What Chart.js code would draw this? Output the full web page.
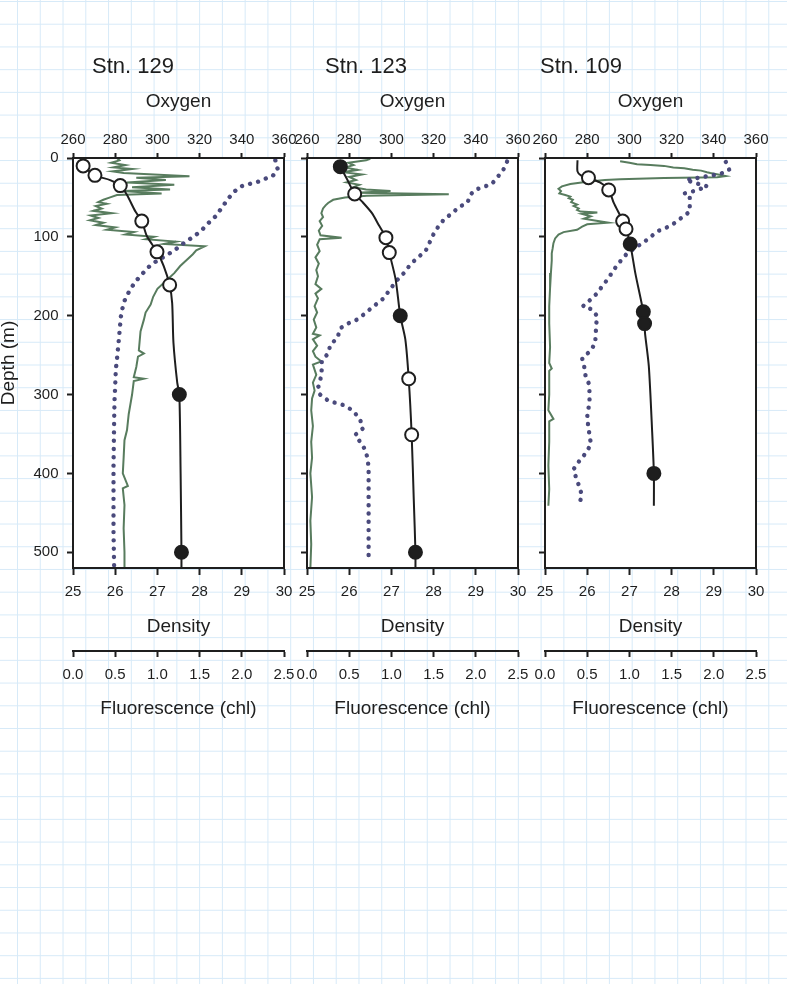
<!DOCTYPE html>
<html>
<head>
<meta charset="utf-8">
<title>CTD profiles</title>
<script src="https://cdn.jsdelivr.net/npm/chart.js@4.4.1/dist/chart.umd.min.js"></script>
<style>
  body {
    margin: 0;
    width: 787px;
    height: 984px;
    overflow: hidden;
    background-color: #fff;
    background-image:
      linear-gradient(90deg, #d7eaf8 1px, transparent 1px),
      linear-gradient(#d7eaf8 1px, transparent 1px);
    background-size: 22.78px 22.73px;
    background-position: 17px 1px;
  }
  .panel { position: absolute; top: 0; }
</style>
</head>
<body>
<canvas id="stn129" class="panel" width="308" height="740" style="left:0px"></canvas>
<canvas id="stn123" class="panel" width="308" height="740" style="left:234px"></canvas>
<canvas id="stn109" class="panel" width="308" height="740" style="left:472px"></canvas>
<script>
// axis ticks
const oxygenTicks = [260, 280, 300, 320, 340, 360];
const densityTicks = [25, 26, 27, 28, 29, 30];
const fluorTicks = [0, 0.5, 1.0, 1.5, 2.0, 2.5];
const depthTicks = [0, 100, 200, 300, 400, 500];

// ---- Stn. 129 ---- pairs are [value, depth]
const density129 = [[25.24,10],[25.52,22],[25.88,28],[26.12,35],[26.28,47],[26.48,68],[26.63,80],[26.75,99],[26.99,119],[27.15,137],[27.29,161],[27.35,184],[27.38,234],[27.47,285],[27.52,300],[27.55,400],[27.57,500],[27.57,520]];
const openCirc129 = [[25.24,10],[25.52,22],[26.12,35],[26.63,80],[26.99,119],[27.29,161]];
const fillCirc129 = [[27.52,300],[27.57,500]];
const oxygen129 = [[355.9,3],[357,14],[354.6,23],[351.4,26],[347.8,30],[343.5,33],[339.5,36],[336.3,43],[333.7,51],[330.8,62],[329.2,68],[327.6,74],[324,83],[320.5,93],[317,100],[312.5,108],[308.6,116],[304.6,123],[300.6,129],[296.7,136],[293.2,146],[289.5,157],[287.1,167],[284.8,178],[283.5,190],[282.7,201],[282,222],[281.6,234],[280.8,256],[280.3,268],[280,289],[279.7,306],[279.5,332],[279.2,391],[279.2,475],[279.5,519]];
const fluor129 = [[0.52,0],[0.55,3],[0.45,6],[0.62,9],[0.48,12],[0.70,14],[0.47,17],[0.60,19],[1.38,23],[0.75,25],[1.10,28],[0.64,31],[1.20,34],[0.70,37],[1.15,40],[0.58,42],[1.05,45],[0.52,47],[0.44,50],[0.36,53],[0.30,56],[0.40,58],[0.27,61],[0.34,64],[0.24,67],[0.46,70],[0.21,73],[0.30,76],[0.20,79],[0.36,82],[0.27,85],[0.50,88],[0.40,91],[0.72,94],[0.62,97],[0.96,100],[0.86,103],[1.22,106],[1.08,109],[1.56,112],[1.46,117],[1.42,122],[1.35,129],[1.27,137],[1.20,146],[1.10,156],[1.00,166],[0.95,176],[0.92,186],[0.86,196],[0.84,205],[0.80,220],[0.78,244],[0.84,248],[0.77,252],[0.75,265],[0.72,278],[0.84,280],[0.72,283],[0.70,300],[0.66,325],[0.64,345],[0.61,358],[0.60,380],[0.59,400],[0.65,416],[0.59,419],[0.61,440],[0.60,470],[0.61,500],[0.61,520]];

// ---- Stn. 123 ----
const density123 = [[25.79,11],[25.95,27],[26.13,45.6],[26.3,55],[26.54,70],[26.7,85],[26.87,101],[26.95,120],[27.1,154],[27.21,200],[27.33,230],[27.41,280],[27.48,351],[27.53,433],[27.57,500],[27.57,520]];
const openCirc123 = [[26.13,45.6],[26.87,101],[26.95,120],[27.41,280],[27.48,351]];
const fillCirc123 = [[25.79,11],[27.21,200],[27.57,500]];
const oxygen123 = [[354.8,4.6],[352.7,17],[350.3,24],[347.6,33],[340,40],[337.6,46],[336,57],[332,62],[328.9,70],[325.2,77],[322.2,87],[319.9,97],[316.2,118],[312.2,127],[309,135],[305.9,146],[302.7,155],[299.5,166],[296.3,178],[291.6,188],[287.1,198],[283.7,205],[280.1,209],[275.7,216],[274.5,228],[271,237],[270.2,247],[267,258],[267,268],[266.5,279],[265.4,290],[266.2,300],[270.2,308],[274.1,311],[278.1,314],[282,321],[285.2,332],[286.5,343],[282.9,351],[287.6,370],[288.7,381],[289.2,393],[289.2,513]];
const fluor123 = [[0.75,1],[0.70,3],[0.49,6],[0.55,9],[0.45,12],[0.60,15],[0.43,18],[0.65,21],[0.50,24],[0.58,28],[0.47,31],[0.62,34],[0.55,37],[0.70,40],[0.99,42],[0.60,44],[1.68,46],[0.71,48],[0.45,50],[0.31,53],[0.25,57],[0.22,60],[0.19,64],[0.17,70],[0.19,75],[0.15,80],[0.18,86],[0.14,92],[0.16,98],[0.41,101],[0.15,103],[0.12,110],[0.15,118],[0.10,126],[0.14,134],[0.11,142],[0.13,150],[0.10,160],[0.17,166],[0.10,172],[0.13,178],[0.09,188],[0.12,196],[0.08,205],[0.11,215],[0.07,223],[0.15,225],[0.07,230],[0.12,238],[0.07,245],[0.10,252],[0.17,258],[0.07,262],[0.11,275],[0.07,285],[0.09,295],[0.06,305],[0.05,320],[0.07,340],[0.05,360],[0.06,380],[0.04,400],[0.06,430],[0.04,460],[0.05,490],[0.04,520]];

// ---- Stn. 109 ----
const density109 = [[25.77,3],[25.77,17],[25.85,22],[26.03,25],[26.3,31],[26.51,40.5],[26.63,57],[26.79,74],[26.84,80],[26.92,90],[27.02,109],[27.14,146],[27.33,195],[27.36,210],[27.37,222],[27.46,264],[27.54,348],[27.58,400],[27.58,441]];
const openCirc109 = [[26.03,25],[26.51,40.5],[26.84,80],[26.92,90]];
const fillCirc109 = [[27.02,109],[27.33,195],[27.36,210],[27.58,400]];
const oxygen109 = [[345.7,5],[347.3,15],[343.3,20],[326.7,28],[333,33],[337,36],[330.6,42],[325.9,45],[328.6,50],[328.6,68],[325.1,75],[321.1,83],[317.1,89],[313.2,93],[309.2,102],[305.6,109],[298.9,121],[295.7,131],[292.5,142],[290.2,152],[287,163],[284.6,172],[281.4,180],[278,188],[282.2,192],[284.6,200],[284.3,212],[284,224],[283.8,235],[281.4,245],[277.6,254],[278.6,265],[279.2,276],[280.9,287],[281.1,298],[281.1,309],[279.9,330],[280.6,341],[281.1,352],[281.8,363],[279.4,374],[276.3,384],[273.5,395],[274.8,406],[276.3,417],[277.5,428],[276.3,438]];
const fluor109 = [[0.89,4],[1.00,6],[1.09,8],[1.25,9],[1.41,10],[1.52,12],[1.65,13],[1.75,15],[1.85,16],[1.92,18],[1.96,19],[2.05,21],[2.14,23],[2.04,24.5],[1.41,25.5],[0.89,27],[0.71,28],[0.50,30],[0.30,33],[0.20,36],[0.16,39],[0.19,42],[0.17,45],[0.24,47],[0.30,49],[0.28,51],[0.33,53],[0.31,56],[0.38,59],[0.34,61],[0.40,64],[0.38,66],[0.42,68],[0.62,69],[0.44,71],[0.54,74],[0.46,77],[0.75,82],[0.50,84],[0.44,87],[0.38,91],[0.22,94],[0.16,97],[0.12,102],[0.10,108],[0.09,115],[0.08,121],[0.08,130],[0.07,146],[0.06,165],[0.05,188],[0.05,210],[0.06,240],[0.05,260],[0.08,267],[0.05,270],[0.05,300],[0.04,320],[0.10,331],[0.05,334],[0.05,360],[0.04,390],[0.05,420],[0.04,441]];

const ink = '#1e1e1e';
const green = '#587c5e';
const purple = '#4a4a7c';
const font = 'Liberation Sans, Arial, sans-serif';

function pts(pairs) {
    return pairs.map(p => ({ x: p[0], y: p[1] }));
}

function tickOpts(size) {
    return {
        color: ink,
        font: { family: font, size: size },
        includeBounds: false
    };
}

function makePanel(id, name, titleDx, showDepth, d) {
    // station name above the top axis
    const stnTitle = {
        id: 'stnTitle',
        afterDraw(chart) {
            const ctx = chart.ctx;
            ctx.save();
            ctx.fillStyle = ink;
            ctx.font = '22px ' + font;
            ctx.textBaseline = 'alphabetic';
            ctx.fillText(name, chart.chartArea.left + titleDx, 73);
            ctx.restore();
        }
    };
    // white plot box with a frame
    const plotBox = {
        id: 'plotBox',
        beforeDraw(chart) {
            const a = chart.chartArea;
            chart.ctx.save();
            chart.ctx.fillStyle = '#fff';
            chart.ctx.fillRect(a.left, a.top, a.right - a.left, a.bottom - a.top);
            chart.ctx.restore();
        },
        afterDatasetsDraw(chart) {
            const a = chart.chartArea;
            const ctx = chart.ctx;
            ctx.save();
            ctx.strokeStyle = ink;
            ctx.lineWidth = 2;
            ctx.strokeRect(a.left, a.top, a.right - a.left, a.bottom - a.top);
            ctx.restore();
        }
    };

    new Chart(document.getElementById(id), {
        type: 'scatter',
        data: {
            datasets: [
                { data: pts(d.open), xAxisID: 'xD', yAxisID: 'y', pointRadius: 6.5, pointBorderWidth: 2,
                  pointBorderColor: ink, pointBackgroundColor: '#fff' },
                { data: pts(d.fill), xAxisID: 'xD', yAxisID: 'y', pointRadius: 6.5, pointBorderWidth: 2,
                  pointBorderColor: ink, pointBackgroundColor: ink },
                { data: pts(d.density), xAxisID: 'xD', yAxisID: 'y', showLine: true, pointRadius: 0,
                  borderColor: ink, borderWidth: 2, tension: 0.25 },
                { data: pts(d.oxygen), xAxisID: 'xO', yAxisID: 'y', showLine: true, pointRadius: 0,
                  borderColor: purple, borderWidth: 4.4, borderDash: [0.01, 8.3], borderCapStyle: 'round' },
                { data: pts(d.fluor), xAxisID: 'xF', yAxisID: 'y', showLine: true, pointRadius: 0,
                  borderColor: green, borderWidth: 2 }
            ]
        },
        options: {
            responsive: false,
            animation: false,
            events: [],
            devicePixelRatio: 1,
            layout: { padding: { left: 0, right: 24, top: 80, bottom: 19 } },
            plugins: { legend: { display: false }, tooltip: { enabled: false } },
            scales: {
                xO: {
                    type: 'linear', position: 'top', weight: 0,
                    min: oxygenTicks[0], max: oxygenTicks[oxygenTicks.length - 1],
                    afterBuildTicks: s => { s.ticks = oxygenTicks.map(v => ({ value: v })); },
                    ticks: Object.assign(tickOpts(15), { padding: 4 }),
                    grid: { drawOnChartArea: false, tickLength: 5, tickWidth: 2, tickColor: ink },
                    border: { display: true, color: ink, width: 2 },
                    title: { display: true, text: 'Oxygen', color: ink, font: { family: font, size: 19 },
                             padding: { top: 10, bottom: 0 } },
                    afterFit: s => { s.height = 78; }
                },
                xD: {
                    type: 'linear', position: 'bottom', weight: 0,
                    min: densityTicks[0], max: densityTicks[densityTicks.length - 1],
                    afterBuildTicks: s => { s.ticks = densityTicks.map(v => ({ value: v })); },
                    ticks: Object.assign(tickOpts(15), { padding: 8 }),
                    grid: { drawOnChartArea: false, tickLength: 7, tickWidth: 2, tickColor: ink },
                    border: { display: true, color: ink, width: 2 },
                    title: { display: true, text: 'Density', color: ink, font: { family: font, size: 19 },
                             padding: { top: 0, bottom: 13 } },
                    afterFit: s => { s.height = 83; }
                },
                xF: {
                    type: 'linear', position: 'bottom', weight: 1,
                    min: fluorTicks[0], max: fluorTicks[fluorTicks.length - 1],
                    afterBuildTicks: s => { s.ticks = fluorTicks.map(v => ({ value: v })); },
                    ticks: Object.assign(tickOpts(15), { padding: 9, callback: v => v.toFixed(1) }),
                    grid: { drawOnChartArea: false, tickLength: 6, tickWidth: 2, tickColor: ink },
                    border: { display: true, color: ink, width: 2 },
                    title: { display: true, text: 'Fluorescence (chl)', color: ink, font: { family: font, size: 19 },
                             padding: { top: 0, bottom: 1 } },
                    afterFit: s => { s.height = 70; }
                },
                y: {
                    type: 'linear', position: 'left', reverse: true,
                    min: 0, max: 520,
                    afterBuildTicks: s => { s.ticks = depthTicks.map(v => ({ value: v })); },
                    ticks: Object.assign(tickOpts(15), { padding: 8.5, display: showDepth }),
                    grid: { drawOnChartArea: false, tickLength: 6, tickWidth: 2, tickColor: ink },
                    border: { display: true, color: ink, width: 2 },
                    title: { display: showDepth, text: 'Depth (m)', color: ink, font: { family: font, size: 19 },
                             padding: { top: -3, bottom: 0 } },
                    afterFit: s => { s.width = 73; }
                }
            }
        },
        plugins: [plotBox, stnTitle]
    });
}

makePanel('stn129', 'Stn. 129', 19, true,
    { density: density129, open: openCirc129, fill: fillCirc129, oxygen: oxygen129, fluor: fluor129 });
makePanel('stn123', 'Stn. 123', 18, false,
    { density: density123, open: openCirc123, fill: fillCirc123, oxygen: oxygen123, fluor: fluor123 });
makePanel('stn109', 'Stn. 109', -5, false,
    { density: density109, open: openCirc109, fill: fillCirc109, oxygen: oxygen109, fluor: fluor109 });
</script>
</body>
</html>
